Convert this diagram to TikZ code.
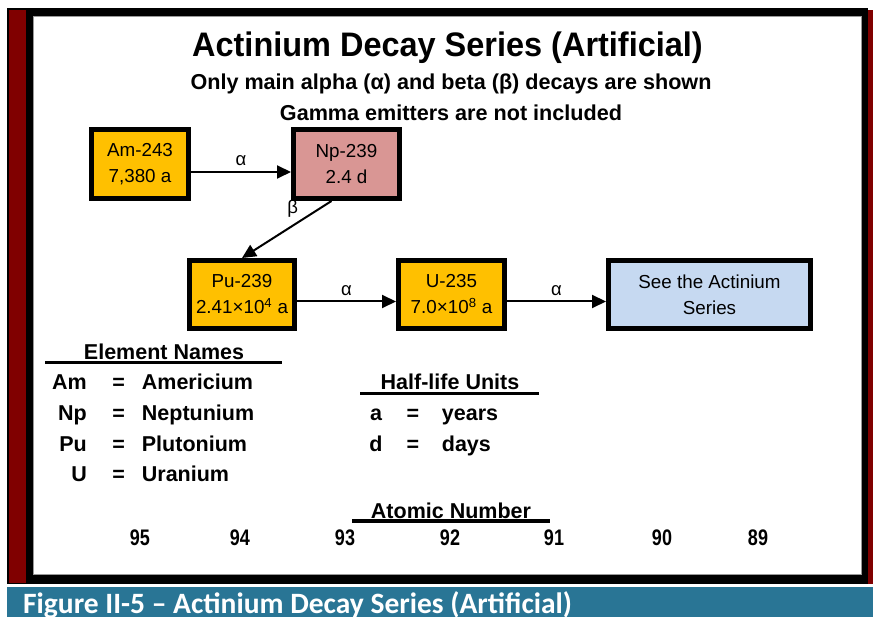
\documentclass[tikz,border=0pt]{standalone}
\usepackage{fontspec}
\setmainfont{Liberation Sans}
\newfontfamily\capfont{Carlito}
\usetikzlibrary{arrows.meta}
\definecolor{goldbox}{RGB}{255,192,0}
\definecolor{pinkbox}{RGB}{217,150,148}
\definecolor{bluebox}{RGB}{198,217,241}
\definecolor{frred}{RGB}{128,0,0}
\definecolor{capteal}{RGB}{41,117,149}
\begin{document}
\begin{tikzpicture}[x=1pt,y=-1pt,
  box/.style={draw=black,line width=5pt,inner sep=0pt,align=center,
    font=\fontsize{18.8}{26}\selectfont},
  arr/.style={line width=2pt,-{Triangle[length=14pt,width=13pt]}},
  lbl/.style={font=\fontsize{18.5}{22}\selectfont,inner sep=0pt},
  leg/.style={font=\bfseries\fontsize{21.5}{25}\selectfont,inner sep=0pt,anchor=base},
  num/.style={font=\bfseries\fontsize{22.5}{25}\selectfont,inner sep=0pt,anchor=base},
  ul/.style={line width=3.5pt}
]
\useasboundingbox (0,0) rectangle (873,617);
\fill[white] (0,0) rectangle (873,617);
% frame
\fill[black] (7,8) rectangle (868,584);
\fill[frred] (9,10) rectangle (26,583);
\fill[frred] (868,10) rectangle (873,584);
\filldraw[fill=white,draw=gray!80,line width=1pt] (33.5,16.5) rectangle (861.5,574.5);
\fill[capteal] (7,587) rectangle (873,617);
\node[anchor=base west,inner sep=0pt,text=white,
  font=\capfont\bfseries\fontsize{29.5}{34}\selectfont] (cap) at (23,613.5)
  {Figure II-5 – Actinium Decay Series (Artificial)};

% titles
\node[anchor=base,inner sep=0pt,font=\bfseries\fontsize{34}{40}\selectfont] (title) at (447.5,57)
  {\scalebox{0.955}[1]{Actinium Decay Series (Artificial)}};
\node[anchor=base,inner sep=0pt,font=\bfseries\fontsize{21.6}{25}\selectfont] (sub1) at (451,90)
  {Only main alpha (α) and beta (β) decays are shown};
\node[anchor=base,inner sep=0pt,font=\bfseries\fontsize{21.6}{25}\selectfont] (sub2) at (451,121)
  {Gamma emitters are not included};

% boxes
\node[box,fill=goldbox,minimum width=97pt,minimum height=69pt] (am) at (140,164) {Am-243\\7,380 a};
\node[box,fill=pinkbox,minimum width=106pt,minimum height=69pt] (np) at (346.5,164) {Np-239\\2.4 d};
\node[box,fill=goldbox,minimum width=105pt,minimum height=68pt] (pu) at (242,294.5) {Pu-239\\2.41×10\textsuperscript{4} a};
\node[box,fill=goldbox,minimum width=106pt,minimum height=68pt] (u) at (451.5,294.5) {U-235\\7.0×10\textsuperscript{8} a};
\node[box,fill=bluebox,minimum width=202pt,minimum height=68pt] (see) at (709.5,294.5) {See the Actinium\\Series};

% arrows
\draw[arr] ([yshift=-8pt]am.east) -- node[lbl,above=5pt]{α} ([yshift=-8pt]np.west);
\draw[arr] ([xshift=-15pt]np.south) -- node[lbl,pos=0.14,left=20pt]{β} (pu.north);
\draw[arr] ([yshift=-7pt]pu.east) -- node[lbl,above=5pt]{α} ([yshift=-7pt]u.west);
\draw[arr] ([yshift=-7pt]u.east) -- node[lbl,above=5pt]{α} ([yshift=-7pt]see.west);

% element names legend
\node[leg] (enh) at (164,359.5) {Element Names};
\draw[ul] (45,362.5) -- (282,362.5);
\node[leg,anchor=base east] (s1) at (87,390) {Am};
\node[leg,anchor=base east] (s2) at (87,420.7) {Np};
\node[leg,anchor=base east] (s3) at (87,451.7) {Pu};
\node[leg,anchor=base east] (s4) at (87,481.7) {U};
\node[leg] (e1) at (118.7,390) {=};
\node[leg] (e2) at (118.7,420.7) {=};
\node[leg] (e3) at (118.7,451.7) {=};
\node[leg] (e4) at (118.7,481.7) {=};
\node[leg,anchor=base west] (n1) at (141.7,390) {Americium};
\node[leg,anchor=base west] (n2) at (141.7,420.7) {Neptunium};
\node[leg,anchor=base west] (n3) at (141.7,451.7) {Plutonium};
\node[leg,anchor=base west] (n4) at (141.7,481.7) {Uranium};

% half-life units legend
\node[leg] (hlh) at (450,390) {Half-life Units};
\draw[ul] (360,393.3) -- (539,393.3);
\node[leg] (h1) at (376,420.7) {a};
\node[leg] (h2) at (376,451.7) {d};
\node[leg] (he1) at (413,420.7) {=};
\node[leg] (he2) at (413,451.7) {=};
\node[leg,anchor=base west] (hn1) at (441.7,420.7) {years};
\node[leg,anchor=base west] (hn2) at (441.7,451.7) {days};

% atomic numbers
\node[leg] (anh) at (451,518.3) {Atomic Number};
\draw[ul] (352,521) -- (550,521);
\node[num] (z95) at (140,545) {\scalebox{0.8}[1]{95}};
\node[num] (z94) at (240,545) {\scalebox{0.8}[1]{94}};
\node[num] (z93) at (345,545) {\scalebox{0.8}[1]{93}};
\node[num] (z92) at (450,545) {\scalebox{0.8}[1]{92}};
\node[num] (z91) at (554,545) {\scalebox{0.8}[1]{91}};
\node[num] (z90) at (662,545) {\scalebox{0.8}[1]{90}};
\node[num] (z89) at (758,545) {\scalebox{0.8}[1]{89}};
\end{tikzpicture}
\end{document}
